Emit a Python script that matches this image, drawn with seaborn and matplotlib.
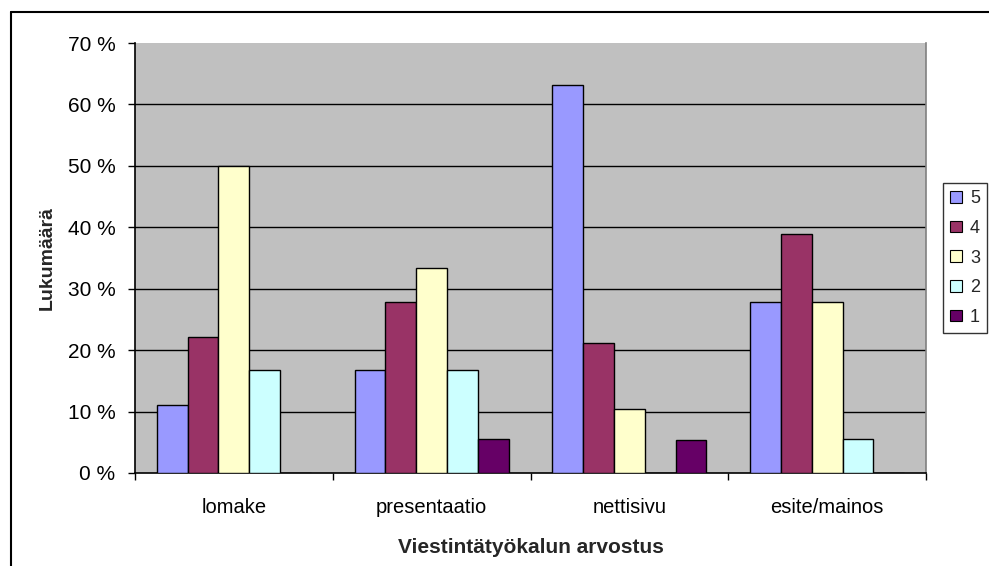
import matplotlib
matplotlib.use("Agg")
import matplotlib.pyplot as plt
from matplotlib.lines import Line2D
from matplotlib.patches import Patch
from matplotlib.ticker import FixedLocator, FuncFormatter
import seaborn as sns
import pandas as pd

# Share of answers (%) for each communication tool, by rating 5..1
categories = ["lomake", "presentaatio", "nettisivu", "esite/mainos"]
ratings = ["5", "4", "3", "2", "1"]
rating_5 = [11.1, 16.7, 63.2, 27.8]
rating_4 = [22.2, 27.8, 21.1, 38.9]
rating_3 = [50.0, 33.3, 10.5, 27.8]
rating_2 = [16.7, 16.7, 0.0, 5.6]
rating_1 = [0.0, 5.6, 5.3, 0.0]
y_ticks = [0, 10, 20, 30, 40, 50, 60, 70]

series = {"5": rating_5, "4": rating_4, "3": rating_3, "2": rating_2, "1": rating_1}
rows = []
for r in ratings:
    for cat, v in zip(categories, series[r]):
        rows.append({"tool": cat, "rating": r, "share": v})
df = pd.DataFrame(rows)

palette = {"5": "#9999FF", "4": "#993366", "3": "#FFFFCC", "2": "#CCFFFF", "1": "#660066"}

sns.set_theme(style="white")
plt.rcParams["font.family"] = ["Liberation Sans", "DejaVu Sans"]

fig = plt.figure(figsize=(9.89, 5.66), dpi=100)
ax = fig.add_axes([135 / 989, 1 - 473 / 566, (926 - 135) / 989, (473 - 43) / 566])
ax.set_facecolor("#C0C0C0")

sns.barplot(data=df, x="tool", y="share", hue="rating", hue_order=ratings,
            order=categories, palette=palette, width=0.7775, dodge=True,
            edgecolor="black", linewidth=1.0, saturation=1, legend=False,
            zorder=3, ax=ax)

ax.set_ylim(0, 70)
ax.set_xlim(-0.5, 3.5)
ax.yaxis.set_major_locator(FixedLocator(y_ticks))
ax.yaxis.set_major_formatter(FuncFormatter(lambda v, p: f"{int(v)} %"))
for t in y_ticks[1:-1]:
    ax.axhline(t, color="black", linewidth=1.0, zorder=1)

# category boundaries carry the tick marks; labels sit at the centres
ax.set_xticks(range(len(categories)))
ax.set_xticklabels(categories)
ax.xaxis.set_minor_locator(FixedLocator([-0.5, 0.5, 1.5, 2.5, 3.5]))
ax.tick_params(axis="x", which="major", length=0, pad=18, labelsize=14.5, colors="black")
ax.tick_params(axis="x", which="minor", bottom=True, length=5, width=1, color="black")
ax.tick_params(axis="y", left=True, length=5, width=1, pad=9, labelsize=15,
               color="black", labelcolor="black")

for side in ["left", "bottom"]:
    ax.spines[side].set_color("black")
    ax.spines[side].set_linewidth(1.2)
ax.spines["right"].set_color("#808080")
ax.spines["right"].set_linewidth(1.2)
ax.spines["top"].set_visible(False)

ax.set_xlabel("Viestintätyökalun arvostus", fontsize=15, fontweight="bold", labelpad=15)
ax.set_ylabel("Lukumäärä", fontsize=14, fontweight="bold", labelpad=9)

handles = [Patch(facecolor=palette[r], edgecolor="black", linewidth=0.8) for r in ratings]
leg = ax.legend(handles, ratings, loc="upper left", bbox_to_anchor=(943 / 989, 1 - 183 / 566),
                bbox_transform=fig.transFigure, frameon=True, fancybox=False,
                fontsize=13, handlelength=0.65, handleheight=0.6, handletextpad=0.45,
                labelspacing=0.7, borderpad=0.4, borderaxespad=0)
leg.get_frame().set_edgecolor("black")
leg.get_frame().set_linewidth(1.0)

# outer chart frame
fig.add_artist(Line2D([11 / 989, 11 / 989], [0, 1 - 12 / 566], color="black", linewidth=1.5,
                      transform=fig.transFigure))
fig.add_artist(Line2D([11 / 989, 1], [1 - 12 / 566, 1 - 12 / 566], color="black", linewidth=1.5,
                      transform=fig.transFigure))

fig.savefig("out.png", dpi=100, facecolor="white")
